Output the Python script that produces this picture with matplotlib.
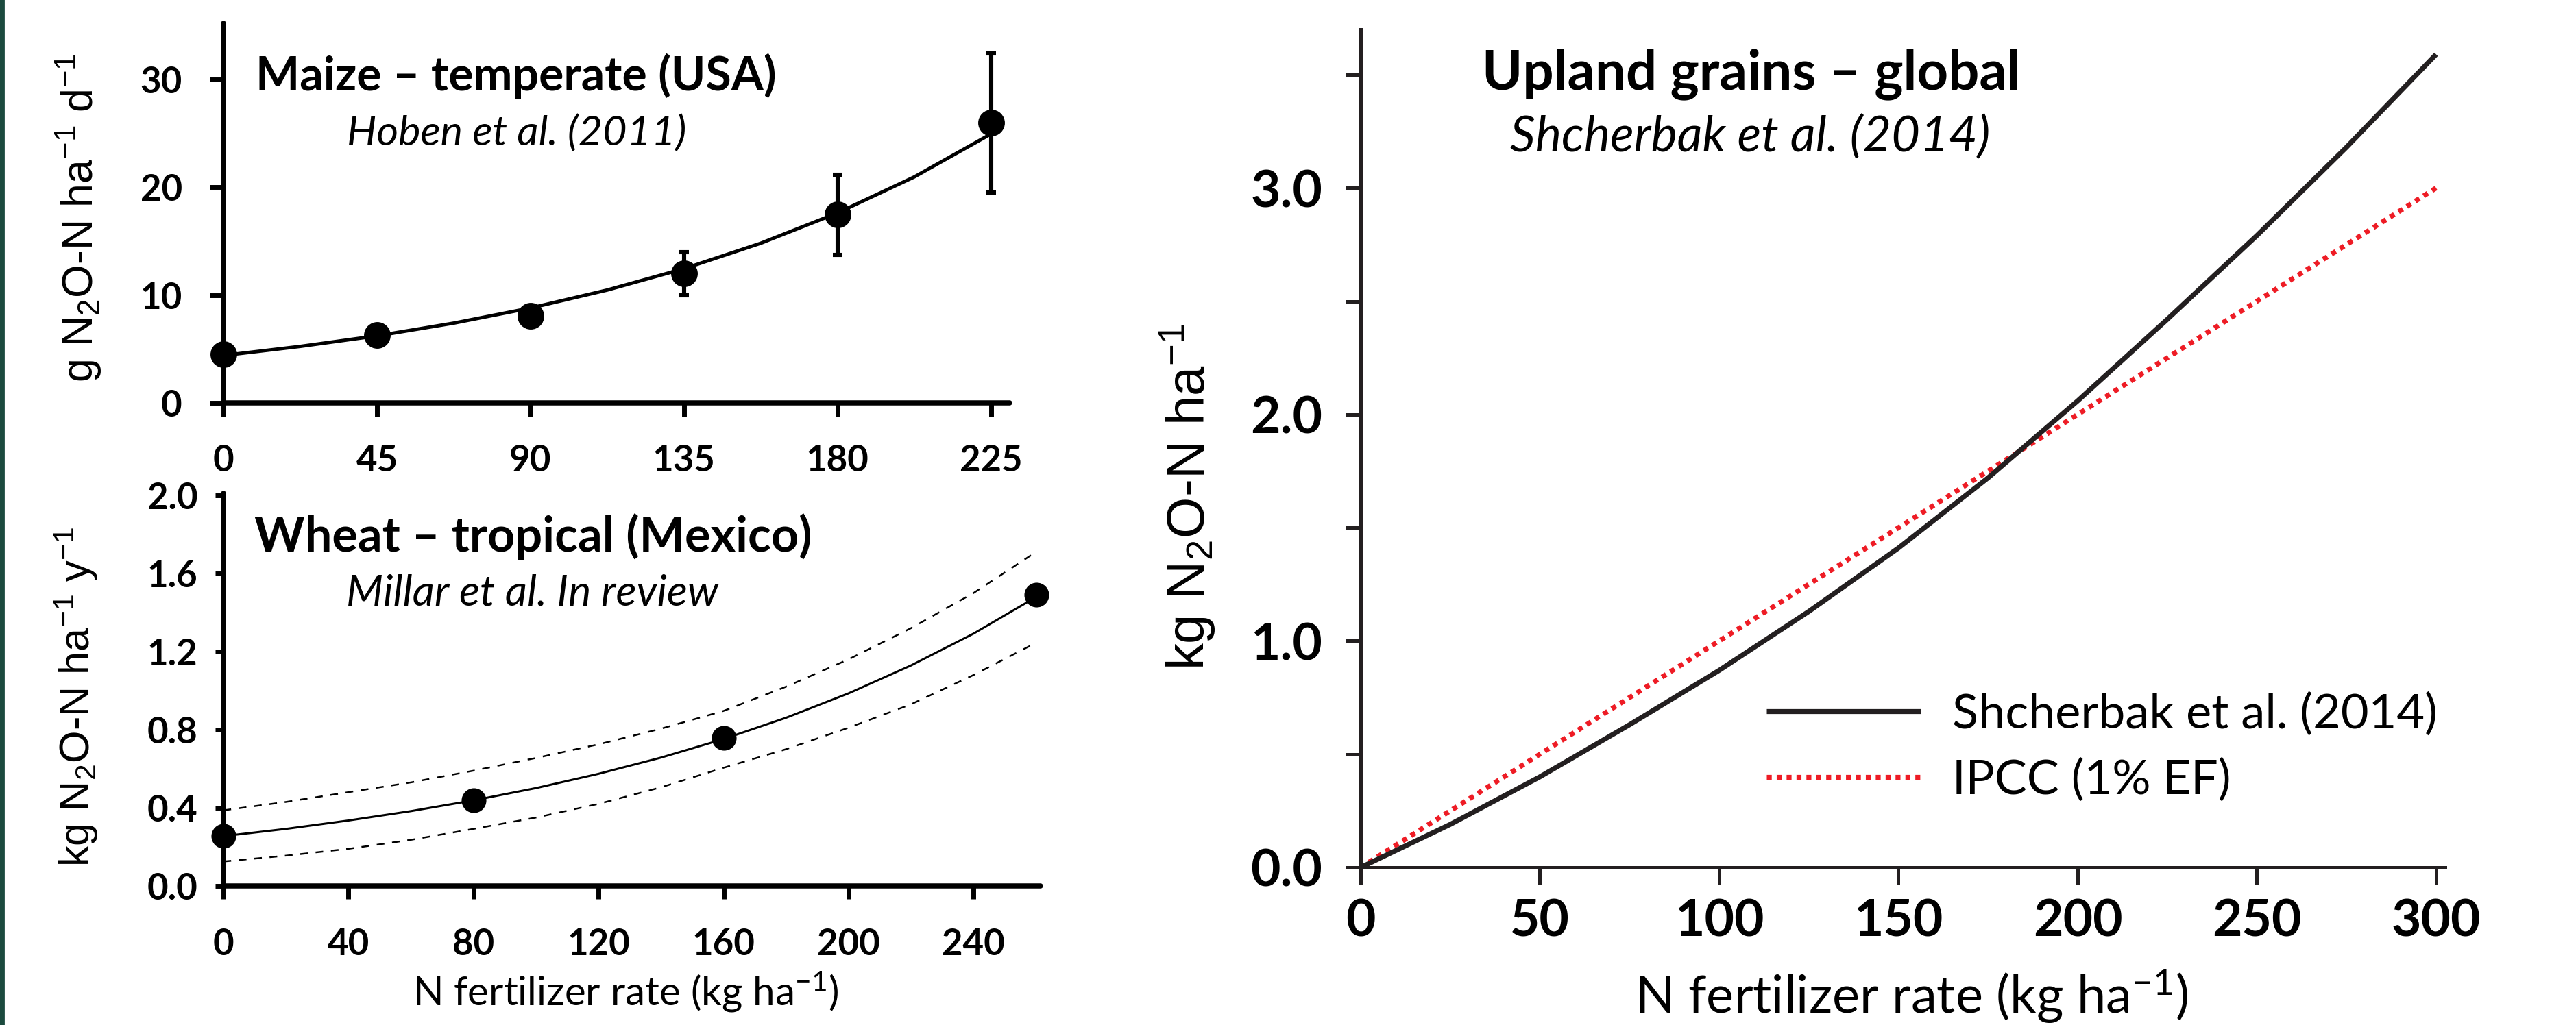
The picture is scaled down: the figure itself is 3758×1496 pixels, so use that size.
import matplotlib
matplotlib.use("Agg")
import matplotlib.pyplot as plt
from matplotlib.patches import Rectangle

plt.rcParams['font.family'] = ['Lato', 'DejaVu Sans']
plt.rcParams['mathtext.default'] = 'regular'

# ---------------- data ----------------
maize_x = [0, 45, 90, 135, 180, 225]
maize_y = [4.54, 6.31, 8.10, 12.0, 17.46, 25.98]
maize_err = [0.5, 0.5, 0.5, 2.0, 3.7, 6.45]
maize_fit_x = [0, 22.5, 45, 67.5, 90, 112.5, 135, 157.5, 180, 202.5, 225]
maize_fit_y = [4.40, 5.24, 6.22, 7.40, 8.80, 10.47, 12.45, 14.81, 17.62, 20.96, 24.95]
maize_xticks = [0, 45, 90, 135, 180, 225]
maize_yticks = [0, 10, 20, 30]

wheat_x = [0, 80, 160, 260]
wheat_y = [0.256, 0.44, 0.758, 1.49]
wheat_fit_x = [0, 20, 40, 60, 80, 100, 120, 140, 160, 180, 200, 220, 240, 260]
wheat_fit_y = [0.255, 0.292, 0.335, 0.383, 0.438, 0.501, 0.574, 0.657, 0.752,
               0.861, 0.986, 1.129, 1.292, 1.479]
wheat_upper = [0.387, 0.43, 0.48, 0.53, 0.59, 0.655, 0.725, 0.805, 0.896,
               1.02, 1.16, 1.32, 1.50, 1.71]
wheat_lower = [0.125, 0.155, 0.19, 0.236, 0.292, 0.35, 0.42, 0.505, 0.605,
               0.70, 0.81, 0.93, 1.08, 1.245]
wheat_xticks = [0, 40, 80, 120, 160, 200, 240]
wheat_yticks = [0.0, 0.4, 0.8, 1.2, 1.6, 2.0]

upland_x = [0, 25, 50, 75, 100, 125, 150, 175, 200, 225, 250, 275, 300]
shcherbak_y = [0, 0.19, 0.40, 0.63, 0.87, 1.13, 1.41, 1.72, 2.06, 2.42, 2.79, 3.18, 3.59]
ipcc_y = [0, 0.25, 0.50, 0.75, 1.00, 1.25, 1.50, 1.75, 2.00, 2.25, 2.50, 2.75, 3.00]
upland_xticks = [0, 50, 100, 150, 200, 250, 300]
upland_yticks_major = [0.0, 1.0, 2.0, 3.0]
upland_yticks_minor = [0.5, 1.5, 2.5, 3.5]

# ---------------- figure ----------------
W, H = 3758, 1496
fig = plt.figure(figsize=(W / 200, H / 200), dpi=200)
fig.patch.set_facecolor('white')


def rect(l, r, b, t):
    return [l / W, 1 - b / H, (r - l) / W, (b - t) / H]


def fx(x):
    return x / W


def fy(y):
    return 1 - y / H


fig.add_artist(Rectangle((0, 0), 5 / W, 1, transform=fig.transFigure,
                         color='#1b4a3e', zorder=10))

ARIAL = 'Liberation Sans'

# ---- top-left: maize ----
ax1 = fig.add_axes(rect(326, 1473, 588, 34.3))
ax1.plot(maize_fit_x, maize_fit_y, color='black', lw=1.8, zorder=2)
ax1.errorbar(maize_x, maize_y, yerr=maize_err, fmt='o', color='black',
             ms=13, elinewidth=2.2, capsize=2.5, capthick=2.2, zorder=3,
             clip_on=False)
ax1.set_xlim(0, 230.5)
ax1.set_ylim(0, 35.2)
ax1.set_xticks(maize_xticks)
ax1.set_yticks(maize_yticks)
ax1.set_xticklabels([str(v) for v in maize_xticks])
ax1.set_yticklabels([str(v) for v in maize_yticks])

# ---- bottom-left: wheat ----
ax2 = fig.add_axes(rect(326, 1518.4, 1293, 720))
ax2.plot(wheat_fit_x, wheat_fit_y, color='black', lw=1.1, zorder=2)
ax2.plot(wheat_fit_x, wheat_upper, color='black', lw=0.9,
         linestyle=(0, (4.5, 4.5)), zorder=2)
ax2.plot(wheat_fit_x, wheat_lower, color='black', lw=0.9,
         linestyle=(0, (4.5, 4.5)), zorder=2)
ax2.plot(wheat_x, wheat_y, 'o', color='black', ms=12, zorder=3, clip_on=False)
ax2.set_xlim(0, 261.5)
ax2.set_ylim(0, 2.01)
ax2.set_xticks(wheat_xticks)
ax2.set_yticks(wheat_yticks)
ax2.set_xticklabels([str(v) for v in wheat_xticks])
ax2.set_yticklabels([f'{v:.1f}' for v in wheat_yticks])

for ax in (ax1, ax2):
    for s in ('top', 'right'):
        ax.spines[s].set_visible(False)
    for s in ('left', 'bottom'):
        ax.spines[s].set_linewidth(2.7)
        ax.spines[s].set_color('black')
        ax.spines[s].set_capstyle('round')
    for lab in ax.get_xticklabels() + ax.get_yticklabels():
        lab.set_fontweight('bold')
        lab.set_fontsize(19)

ax1.tick_params(axis='both', direction='out', width=2.5, length=7.2, pad=14.5)
ax2.tick_params(axis='x', direction='out', width=2.5, length=7, pad=15)
ax2.tick_params(axis='y', direction='out', width=2.5, length=4.5, pad=9)

# ---- right: upland grains ----
DARK = '#231f20'
ax3 = fig.add_axes(rect(1985, 3567, 1266, 43))
ax3.plot(upland_x, shcherbak_y, color=DARK, lw=2.6, zorder=3,
         label='Shcherbak et al. (2014)', solid_capstyle='butt')
ax3.plot(upland_x, ipcc_y, color='#ee1c25', lw=2.6, linestyle=(0, (1, 1)),
         zorder=2, label='IPCC (1% EF)')
ax3.set_xlim(0, 302.5)
ax3.set_ylim(0, 3.70)
ax3.set_xticks(upland_xticks)
ax3.set_xticklabels([str(v) for v in upland_xticks])
ax3.set_yticks(upland_yticks_major)
ax3.set_yticklabels([f'{v:.1f}' for v in upland_yticks_major])
ax3.set_yticks(upland_yticks_minor, minor=True)
for s in ('top', 'right'):
    ax3.spines[s].set_visible(False)
for s in ('left', 'bottom'):
    ax3.spines[s].set_linewidth(1.8)
    ax3.spines[s].set_color(DARK)
ax3.tick_params(axis='x', direction='out', width=1.8, length=9, pad=7,
                color=DARK)
ax3.tick_params(axis='y', which='both', direction='out', width=1.8, length=8,
                pad=12, color=DARK)
for lab in ax3.get_xticklabels() + ax3.get_yticklabels():
    lab.set_fontweight('bold')
    lab.set_fontsize(27)

leg = ax3.legend(loc='upper left', bbox_to_anchor=(fx(2577), fy(1010)),
                 bbox_transform=fig.transFigure, frameon=False,
                 fontsize=25.3, handlelength=3.2, handletextpad=0.66,
                 labelspacing=0.45, borderpad=0, borderaxespad=0)

# ---- titles ----
fig.text(fx(753), fy(132), 'Maize \u2013 temperate (USA)', ha='center',
         va='baseline', fontsize=24.5, fontweight='bold')
fig.text(fx(754), fy(212), 'Hoben et al. (2011)', ha='center',
         va='baseline', fontsize=22, style='italic')
fig.text(fx(778), fy(805), 'Wheat \u2013 tropical (Mexico)', ha='center',
         va='baseline', fontsize=25.3, fontweight='bold')
fig.text(fx(777), fy(883), 'Millar et al. In review', ha='center',
         va='baseline', fontsize=22.6, style='italic')
fig.text(fx(2555), fy(130), 'Upland grains \u2013 global', ha='center',
         va='baseline', fontsize=28.7, fontweight='bold')
fig.text(fx(2553), fy(222), 'Shcherbak et al. (2014)', ha='center',
         va='baseline', fontsize=26, style='italic')

# ---- axis labels ----
fig.text(fx(115), fy(318),
         r'g N$_{\mathregular{2}}$O-N ha$^{\mathregular{-1}}$ d$^{\mathregular{-1}}$',
         rotation=90, ha='center', va='center', fontsize=22.5, family=ARIAL)
fig.text(fx(112), fy(1017),
         r'kg N$_{\mathregular{2}}$O-N ha$^{\mathregular{-1}}$ y$^{\mathregular{-1}}$',
         rotation=90, ha='center', va='center', fontsize=22, family=ARIAL)
fig.text(fx(1733), fy(725),
         r'kg N$_{\mathregular{2}}$O-N ha$^{\mathregular{-1}}$',
         rotation=90, ha='center', va='center', fontsize=28, family=ARIAL)
fig.text(fx(913), fy(1468), r'N fertilizer rate (kg ha$^{\mathregular{-1}}$)',
         ha='center', va='baseline', fontsize=21)
fig.text(fx(2789), fy(1479), r'N fertilizer rate (kg ha$^{\mathregular{-1}}$)',
         ha='center', va='baseline', fontsize=27.3)

fig.savefig('out.png', dpi=200, facecolor='white')
